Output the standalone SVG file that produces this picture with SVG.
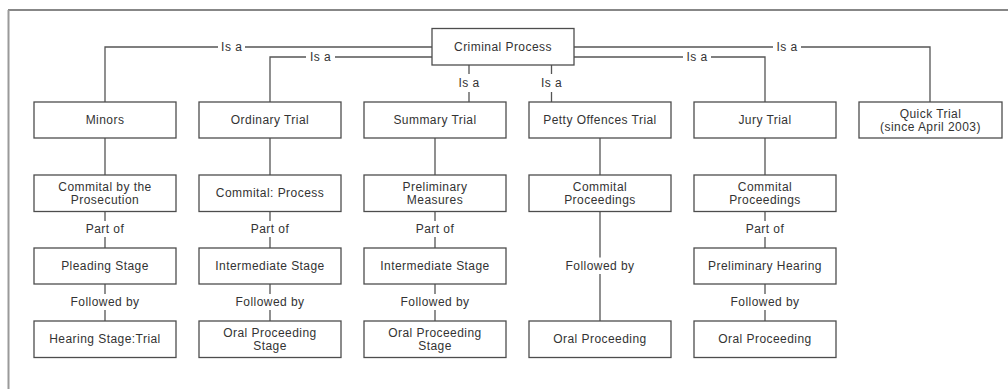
<svg xmlns="http://www.w3.org/2000/svg" width="1008" height="389" viewBox="0 0 1008 389">
<style>
.box{fill:#fff;stroke:#4d4d4d;stroke-width:1.3}
.t{font-family:"Liberation Sans",Arial,sans-serif;font-size:12px;letter-spacing:0.45px;fill:#333;text-anchor:middle;dominant-baseline:central}
.c{fill:none;stroke:#555;stroke-width:1.3}
</style>
<rect width="1008" height="389" fill="#fff"/>
<line x1="8" y1="10" x2="1008" y2="10" stroke="#111" stroke-width="1.2"/>
<line x1="8.5" y1="10" x2="8.5" y2="389" stroke="#9a9a9a" stroke-width="2"/>
<g id="connectors">
<path class="c" d="M432,47H245M218,47H105V102"/>
<text class="t" x="231.7" y="47">Is a</text>
<path class="c" d="M432,57H335M306,57H270V102"/>
<text class="t" x="320.5" y="57">Is a</text>
<path class="c" d="M469,65V74M469,92V102"/>
<text class="t" x="469" y="83">Is a</text>
<path class="c" d="M551.5,65V74M551.5,92V102"/>
<text class="t" x="551.5" y="83">Is a</text>
<path class="c" d="M574,57H683M711,57H765V102"/>
<text class="t" x="697" y="57">Is a</text>
<path class="c" d="M574,47H773M801,47H930V102"/>
<text class="t" x="787" y="47">Is a</text>
<path class="c" d="M105,138V175M270,138V175M435,138V175M600,138V175M765,138V175"/>
<path class="c" d="M105,211V221M105,237V248M270,211V221M270,237V248M435,211V221M435,237V248M765,211V221M765,237V248"/>
<text class="t" x="105" y="229">Part of</text>
<text class="t" x="270" y="229">Part of</text>
<text class="t" x="435" y="229">Part of</text>
<text class="t" x="765" y="229">Part of</text>
<path class="c" d="M105,284V294M105,310V321M270,284V294M270,310V321M435,284V294M435,310V321M765,284V294M765,310V321"/>
<text class="t" x="105" y="302">Followed by</text>
<text class="t" x="270" y="302">Followed by</text>
<text class="t" x="435" y="302">Followed by</text>
<text class="t" x="765" y="302">Followed by</text>
<path class="c" d="M600,211V257.5M600,274V321"/>
<text class="t" x="600" y="266">Followed by</text>
</g>
<g id="criminal-process"><rect class="box" x="432" y="28.5" width="142" height="36.5"/><text class="t" x="503" y="46.7">Criminal Process</text></g>
<g id="minors"><rect class="box" x="34" y="102" width="142" height="36"/><text class="t" x="105" y="120">Minors</text></g>
<g id="ordinary-trial"><rect class="box" x="199" y="102" width="142" height="36"/><text class="t" x="270" y="120">Ordinary Trial</text></g>
<g id="summary-trial"><rect class="box" x="364" y="102" width="142" height="36"/><text class="t" x="435" y="120">Summary Trial</text></g>
<g id="petty-offences-trial"><rect class="box" x="529" y="102" width="142" height="36"/><text class="t" x="600" y="120">Petty Offences Trial</text></g>
<g id="jury-trial"><rect class="box" x="694" y="102" width="142" height="36"/><text class="t" x="765" y="120">Jury Trial</text></g>
<g id="quick-trial"><rect class="box" x="859" y="102" width="143" height="36"/><text class="t" x="930.5" y="113.5">Quick Trial</text><text class="t" x="930.5" y="126.5">(since April 2003)</text></g>
<g id="commital-prosecution"><rect class="box" x="34" y="175" width="142" height="36.5"/><text class="t" x="105" y="187">Commital by the</text><text class="t" x="105" y="199.5">Prosecution</text></g>
<g id="commital-process"><rect class="box" x="199" y="175" width="142" height="36.5"/><text class="t" x="270" y="193">Commital: Process</text></g>
<g id="preliminary-measures"><rect class="box" x="364" y="175" width="142" height="36.5"/><text class="t" x="435" y="187">Preliminary</text><text class="t" x="435" y="199.5">Measures</text></g>
<g id="commital-proceedings-petty"><rect class="box" x="529" y="175" width="142" height="36.5"/><text class="t" x="600" y="187">Commital</text><text class="t" x="600" y="199.5">Proceedings</text></g>
<g id="commital-proceedings-jury"><rect class="box" x="694" y="175" width="142" height="36.5"/><text class="t" x="765" y="187">Commital</text><text class="t" x="765" y="199.5">Proceedings</text></g>
<g id="pleading-stage"><rect class="box" x="34" y="248" width="142" height="36"/><text class="t" x="105" y="266">Pleading Stage</text></g>
<g id="intermediate-stage-1"><rect class="box" x="199" y="248" width="142" height="36"/><text class="t" x="270" y="266">Intermediate Stage</text></g>
<g id="intermediate-stage-2"><rect class="box" x="364" y="248" width="142" height="36"/><text class="t" x="435" y="266">Intermediate Stage</text></g>
<g id="preliminary-hearing"><rect class="box" x="694" y="248" width="142" height="36"/><text class="t" x="765" y="266">Preliminary Hearing</text></g>
<g id="hearing-stage"><rect class="box" x="34" y="321" width="142" height="36.5"/><text class="t" x="105" y="339">Hearing Stage:Trial</text></g>
<g id="oral-proceeding-stage-1"><rect class="box" x="199" y="321" width="142" height="36.5"/><text class="t" x="270" y="333">Oral Proceeding</text><text class="t" x="270" y="345.5">Stage</text></g>
<g id="oral-proceeding-stage-2"><rect class="box" x="364" y="321" width="142" height="36.5"/><text class="t" x="435" y="333">Oral Proceeding</text><text class="t" x="435" y="345.5">Stage</text></g>
<g id="oral-proceeding-petty"><rect class="box" x="529" y="321" width="142" height="36.5"/><text class="t" x="600" y="339">Oral Proceeding</text></g>
<g id="oral-proceeding-jury"><rect class="box" x="694" y="321" width="142" height="36.5"/><text class="t" x="765" y="339">Oral Proceeding</text></g>
</svg>
